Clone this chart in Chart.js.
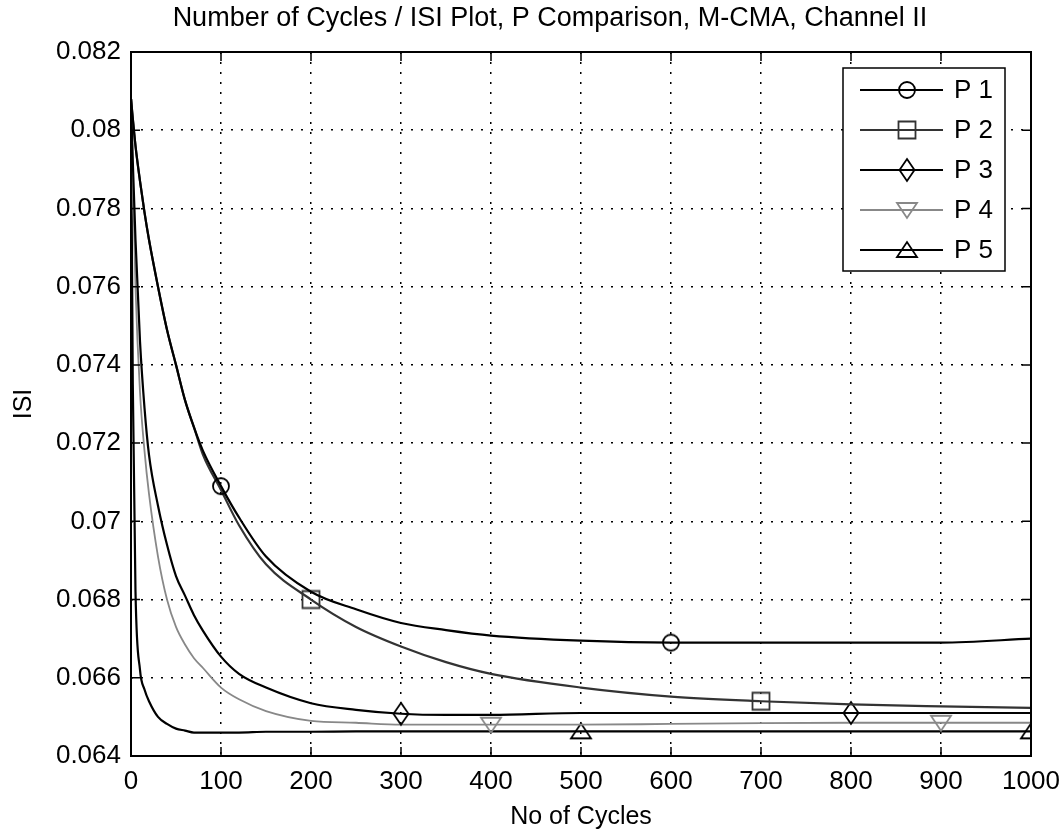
<!DOCTYPE html>
<html>
<head>
<meta charset="utf-8">
<script src="https://cdn.jsdelivr.net/npm/chart.js@4.4.1/dist/chart.umd.min.js"></script>
<style>
  html, body { margin: 0; padding: 0; background: #fff; }
  #wrap { width: 1064px; height: 835px; }
</style>
</head>
<body>
<div id="wrap"><canvas id="chartIsi" width="1064" height="835"></canvas></div>
<script>
// valores
const cycles = [0, 2, 5, 10, 15, 20, 30, 40, 50, 60, 70, 80, 100, 120, 150, 200, 250, 300, 350, 400, 500, 600, 700, 800, 900, 1000];
const isiP1 = [0.0808, 0.0803, 0.0796, 0.0787, 0.0779, 0.0772, 0.0760, 0.0749, 0.0740, 0.0731, 0.0724, 0.0718, 0.0709, 0.0701, 0.0691, 0.0682, 0.06775, 0.0674, 0.06722, 0.06708, 0.06695, 0.0669, 0.0669, 0.0669, 0.0669, 0.0670];
const isiP2 = [0.0808, 0.0803, 0.0796, 0.0787, 0.0779, 0.0772, 0.0760, 0.0749, 0.0740, 0.0731, 0.0724, 0.0717, 0.0708, 0.0699, 0.0689, 0.0680, 0.0673, 0.0668, 0.0664, 0.0661, 0.06575, 0.06552, 0.06540, 0.06532, 0.06527, 0.06523];
const isiP3 = [0.0808, 0.0792, 0.0772, 0.0746, 0.0729, 0.0717, 0.0704, 0.0694, 0.0686, 0.0681, 0.0676, 0.0672, 0.06654, 0.0661, 0.06575, 0.06535, 0.06518, 0.06508, 0.06505, 0.06505, 0.0651, 0.0651, 0.0651, 0.0651, 0.0651, 0.0651];
const isiP4 = [0.0808, 0.0789, 0.0760, 0.0733, 0.0718, 0.0707, 0.0691, 0.0680, 0.0673, 0.06685, 0.0665, 0.06625, 0.06575, 0.06545, 0.06515, 0.0649, 0.06485, 0.0648, 0.0648, 0.0648, 0.0648, 0.06482, 0.06484, 0.06485, 0.06485, 0.06485];
const isiP5 = [0.0808, 0.0735, 0.0682, 0.0662, 0.0657, 0.0654, 0.0650, 0.06482, 0.0647, 0.06465, 0.0646, 0.0646, 0.0646, 0.0646, 0.06462, 0.06462, 0.06463, 0.06463, 0.06463, 0.06463, 0.06463, 0.06463, 0.06463, 0.06463, 0.06463, 0.06463];

const seriesLabels = ['P 1', 'P 2', 'P 3', 'P 4', 'P 5'];
const markerCycles = [[100, 600], [200, 700], [300, 800], [400, 900], [500, 1000]];

const xTicks = [0, 100, 200, 300, 400, 500, 600, 700, 800, 900, 1000];
const xTickLabels = ['0', '100', '200', '300', '400', '500', '600', '700', '800', '900', '1000'];
const yTicks = [0.064, 0.066, 0.068, 0.070, 0.072, 0.074, 0.076, 0.078, 0.080, 0.082];
const yTickLabels = ['0.064', '0.066', '0.068', '0.07', '0.072', '0.074', '0.076', '0.078', '0.08', '0.082'];

const titulo = 'Number of Cycles / ISI Plot, P Comparison, M-CMA, Channel II';
const fuente = "'Liberation Sans', Arial, sans-serif";
const colores = ['#000', '#333', '#000', '#888', '#000'];
const formas = ['circle', 'square', 'diamond', 'tri-down', 'tri-up'];

// marcadores huecos al estilo matlab
const makeMarker = (shape, color) => {
    const c = document.createElement('canvas');
    c.width = 26; c.height = 26;
    const g = c.getContext('2d');
    g.strokeStyle = color;
    g.lineWidth = 1.8;
    g.beginPath();
    if (shape === 'circle') g.arc(13, 13, 8, 0, Math.PI * 2);
    if (shape === 'square') g.rect(4.5, 4.5, 17, 17);
    if (shape === 'diamond') { g.moveTo(13, 2); g.lineTo(20.5, 13); g.lineTo(13, 24); g.lineTo(5.5, 13); g.closePath(); }
    if (shape === 'tri-down') { g.moveTo(3, 6); g.lineTo(23, 6); g.lineTo(13, 21); g.closePath(); }
    if (shape === 'tri-up') { g.moveTo(3, 20); g.lineTo(23, 20); g.lineTo(13, 5); g.closePath(); }
    g.stroke();
    return c;
};

const series = [isiP1, isiP2, isiP3, isiP4, isiP5];
const datasets = series.map((vals, i) => {
    const marker = makeMarker(formas[i], colores[i]);
    return {
        label: seriesLabels[i],
        data: cycles.map((c, j) => ({ x: c, y: vals[j] })),
        borderColor: colores[i],
        borderWidth: i === 3 ? 1.8 : 2.2,
        cubicInterpolationMode: 'monotone',
        pointStyle: marker,
        pointRadius: ctx => markerCycles[i].includes(cycles[ctx.dataIndex]) ? 9 : 0,
        pointHoverRadius: 0,
        marker: marker
    };
});

// titulo, caja completa, ticks hacia adentro y leyenda
const matlabBox = {
    id: 'matlabBox',
    afterDraw(chart) {
        const { ctx, chartArea: a, scales } = chart;
        ctx.save();
        ctx.fillStyle = '#000';
        ctx.font = '27px ' + fuente;
        ctx.textAlign = 'center';
        ctx.textBaseline = 'middle';
        ctx.fillText(titulo, 550, 19);

        ctx.strokeStyle = '#000';
        ctx.lineWidth = 2;
        ctx.strokeRect(a.left, a.top, a.right - a.left, a.bottom - a.top);
        ctx.lineWidth = 1.5;
        ctx.beginPath();
        xTicks.forEach(v => {
            const x = scales.x.getPixelForValue(v);
            ctx.moveTo(x, a.bottom); ctx.lineTo(x, a.bottom - 9);
            ctx.moveTo(x, a.top); ctx.lineTo(x, a.top + 9);
        });
        yTicks.forEach(v => {
            const y = scales.y.getPixelForValue(v);
            ctx.moveTo(a.left, y); ctx.lineTo(a.left + 9, y);
            ctx.moveTo(a.right, y); ctx.lineTo(a.right - 9, y);
        });
        ctx.stroke();

        // leyenda
        const lx = 843, ly = 68, lw = 162, lh = 203;
        ctx.fillStyle = '#fff';
        ctx.fillRect(lx, ly, lw, lh);
        ctx.lineWidth = 1.5;
        ctx.strokeStyle = '#000';
        ctx.strokeRect(lx, ly, lw, lh);
        ctx.font = '26px ' + fuente;
        ctx.textAlign = 'left';
        chart.data.datasets.forEach((ds, i) => {
            const y = 90 + 40 * i;
            ctx.strokeStyle = ds.borderColor;
            ctx.lineWidth = 2;
            ctx.beginPath();
            ctx.moveTo(860, y); ctx.lineTo(943, y);
            ctx.stroke();
            ctx.drawImage(ds.marker, 907 - 13, y - 13);
            ctx.fillStyle = '#000';
            ctx.fillText(ds.label, 954, y + 1);
        });
        ctx.restore();
    }
};

const chartIsi = new Chart(document.getElementById('chartIsi'), {
    type: 'line',
    data: { datasets: datasets },
    plugins: [matlabBox],
    options: {
        responsive: false,
        animation: false,
        layout: { padding: { left: 0, right: 33, top: 52, bottom: 0 } },
        plugins: {
            legend: { display: false },
            tooltip: { enabled: false },
            title: { display: false }
        },
        scales: {
            x: {
                type: 'linear',
                min: 0, max: 1000,
                afterFit: s => { s.height = 79; s.paddingRight = 0; s.paddingLeft = 0; },
                afterBuildTicks: s => { s.ticks = xTicks.map(v => ({ value: v })); },
                ticks: {
                    color: '#000',
                    font: { family: fuente, size: 26 },
                    padding: 10,
                    maxRotation: 0,
                    callback: (v, i) => xTickLabels[i]
                },
                grid: { color: '#000', lineWidth: 1.5, drawTicks: false },
                border: { display: false, dash: [2, 8] },
                title: {
                    display: true,
                    text: 'No of Cycles',
                    color: '#000',
                    font: { family: fuente, size: 25 },
                    padding: { top: 6, bottom: 3 }
                }
            },
            y: {
                min: 0.064, max: 0.082,
                afterFit: s => { s.width = 131; s.paddingTop = 0; s.paddingBottom = 0; },
                afterBuildTicks: s => { s.ticks = yTicks.map(v => ({ value: v })); },
                ticks: {
                    color: '#000',
                    font: { family: fuente, size: 26 },
                    padding: 10,
                    callback: (v, i) => yTickLabels[i]
                },
                grid: { color: '#000', lineWidth: 1.5, drawTicks: false },
                border: { display: false, dash: [2, 8] },
                title: {
                    display: true,
                    text: 'ISI',
                    color: '#000',
                    font: { family: fuente, size: 25 },
                    padding: { top: 9, bottom: 0 }
                }
            }
        }
    }
});
</script>
</body>
</html>
